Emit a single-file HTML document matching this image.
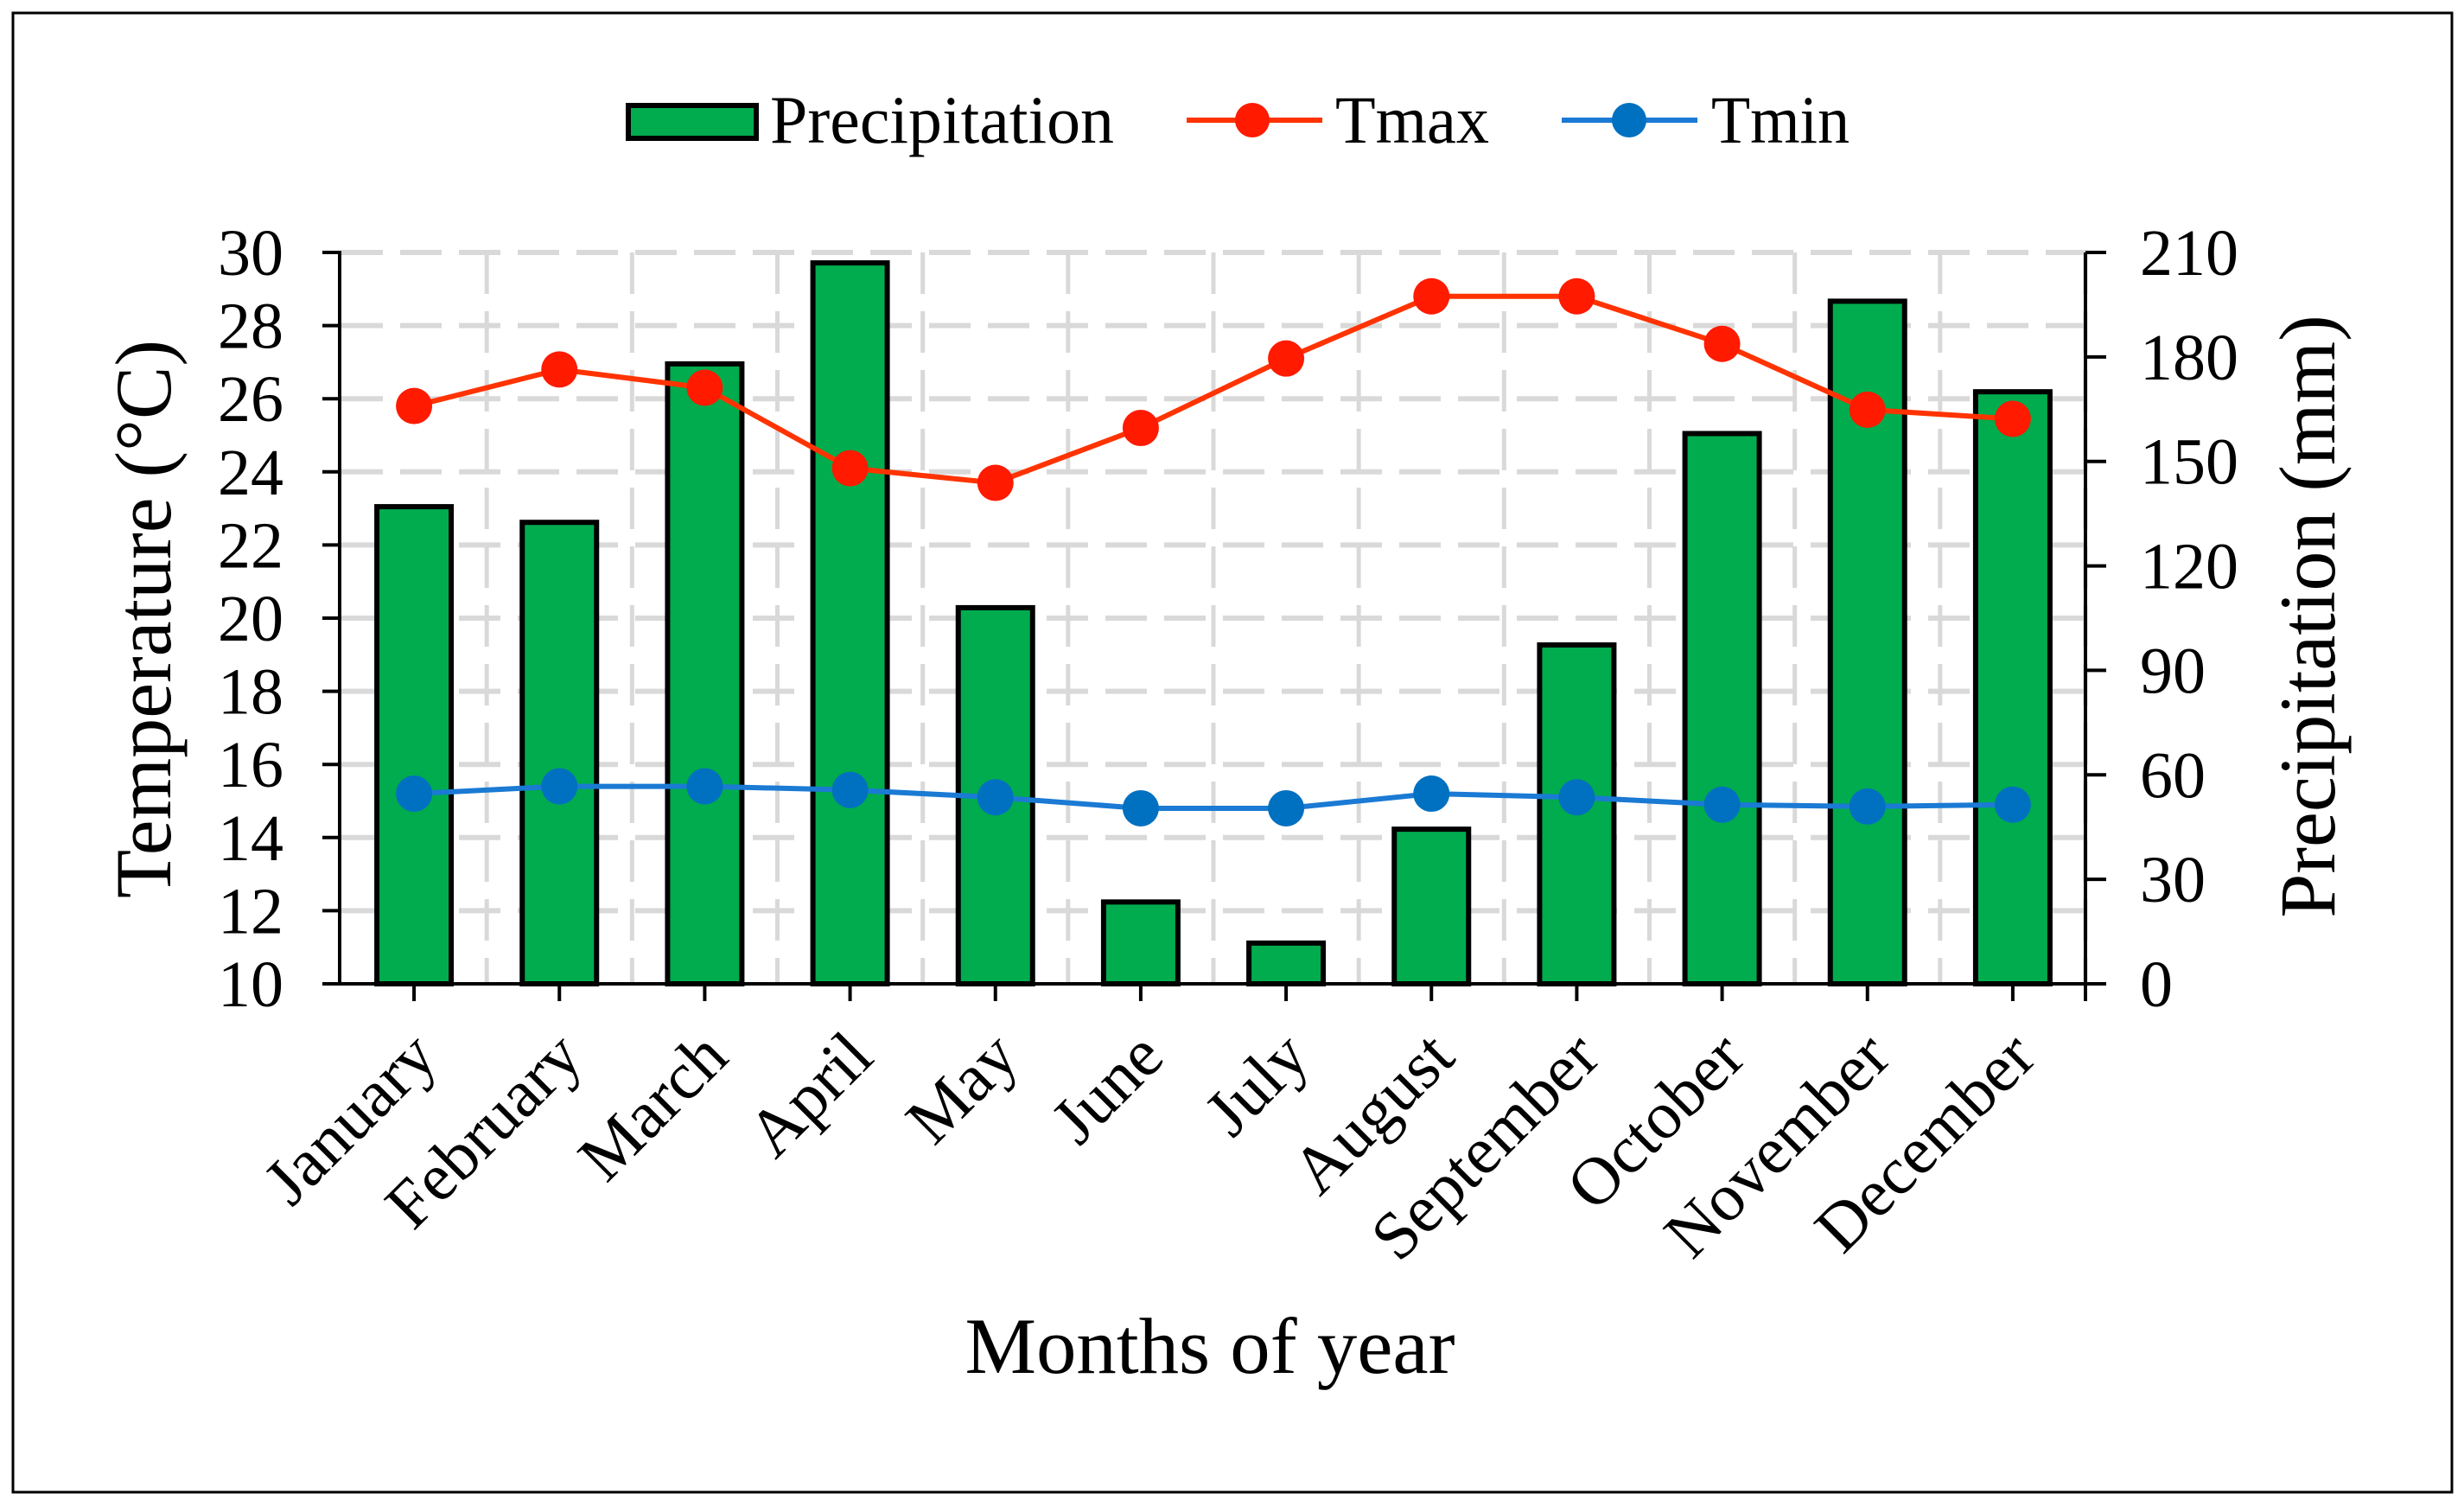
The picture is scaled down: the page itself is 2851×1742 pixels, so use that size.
<!DOCTYPE html>
<html><head><meta charset="utf-8"><style>
html,body{margin:0;padding:0;background:#fff}
svg{display:block}
text{font-family:"Liberation Serif",serif;fill:#000}
</style></head><body>
<svg id="chart" width="2851" height="1742" viewBox="0 0 2851 1742">
<rect x="15" y="15" width="2822" height="1711" fill="#fff" stroke="#000" stroke-width="3"/>
<g id="grid"></g>
<g id="bars"></g>
<g id="lines"></g>
<g id="axes"></g>
<text x="176" y="716" font-size="92" text-anchor="middle" dominant-baseline="middle" transform="rotate(-90 176 716)">Temperature (°C)</text>
<text x="2680" y="713" font-size="92" text-anchor="middle" dominant-baseline="middle" transform="rotate(-90 2680 713)">Precipitation (mm)</text>
<text x="1400" y="1588" font-size="92" text-anchor="middle" textLength="567" lengthAdjust="spacingAndGlyphs">Months of year</text>
<g>
<g>
<rect x="727" y="122" width="148" height="38" fill="#00ac4e" stroke="#000" stroke-width="6"/>
<text x="891" y="165" font-size="78" textLength="398" lengthAdjust="spacingAndGlyphs">Precipitation</text></g>
<g>
<line x1="1373" y1="139" x2="1530" y2="139" stroke="#ff3300" stroke-width="6"/>
<circle cx="1449" cy="139" r="20" fill="#ff1a00"/>
<text x="1545" y="165" font-size="78" textLength="178" lengthAdjust="spacingAndGlyphs">Tmax</text></g>
<g>
<line x1="1807" y1="139" x2="1964" y2="139" stroke="#1a7ad4" stroke-width="6"/>
<circle cx="1885" cy="139" r="20" fill="#0070c0"/>
<text x="1980" y="165" font-size="78" textLength="160" lengthAdjust="spacingAndGlyphs">Tmin</text></g>
</g>
</svg>
<script>
const months = ["January","February","March","April","May","June","July","August","September","October","November","December"];
const precipitation = [137, 132.5, 178, 207, 108, 23.5, 11.7, 44.4, 97.3, 158, 196, 170];
const tmax = [25.8, 26.8, 26.3, 24.1, 23.7, 25.2, 27.1, 28.8, 28.8, 27.5, 25.7, 25.45];
const tmin = [15.2, 15.4, 15.4, 15.3, 15.1, 14.8, 14.8, 15.2, 15.1, 14.9, 14.85, 14.9];
const tempTicks = [10,12,14,16,18,20,22,24,26,28,30];
const precTicks = [0,30,60,90,120,150,180,210];

const NS = "http://www.w3.org/2000/svg";
const L = 395, R = 2413, T = 292, B = 1138;
const band = (R - L) / months.length;
const xC = i => L + band * (i + 0.5);
const yT = v => B - (v - 10) / 20 * (B - T);
const yP = v => B - v / 210 * (B - T);
function mk(tag, attrs, parent) { const e = document.createElementNS(NS, tag); for (const k in attrs) e.setAttribute(k, attrs[k]); parent.appendChild(e); return e; }

const grid = document.getElementById('grid');
tempTicks.forEach(t => { if (t === 10) return;
  const l = mk('line', {x1: L, x2: R, y1: yT(t), y2: yT(t), stroke: '#d9d9d9', 'stroke-width': 6, 'stroke-dasharray': '48 20'}, grid);
  
  
});
for (let i = 1; i <= months.length; i++) {
  const x = L + band * i;
  const l = mk('line', {x1: x, x2: x, y1: T, y2: B, stroke: '#d9d9d9', 'stroke-width': 5, 'stroke-dasharray': '48 20'}, grid);
  
  
}

const bars = document.getElementById('bars');
precipitation.forEach((v, i) => {
  const w = 86, y = yP(v);
  const r = mk('rect', {x: xC(i) - w / 2, y: y, width: w, height: B - y, fill: '#00ac4e', stroke: '#000', 'stroke-width': 6}, bars);
  
  
});

const lines = document.getElementById('lines');
function series(vals, lineCol, dotCol, name) {
  const p = mk('polyline', {points: vals.map((v, i) => xC(i) + ',' + yT(v)).join(' '), fill: 'none', stroke: lineCol, 'stroke-width': 6}, lines);
  
  
  vals.forEach((v, i) => {
    const c = mk('circle', {cx: xC(i), cy: yT(v), r: 21, fill: dotCol}, lines);
    
    
  });
}
series(tmax, '#ff3300', '#ff1a00', 'tmax');
series(tmin, '#1a7ad4', '#0070c0', 'tmin');

const axes = document.getElementById('axes');
let a;
a = mk('line', {x1: L - 2, x2: L - 2, y1: T, y2: B, stroke: '#000', 'stroke-width': 4}, axes);
 
a = mk('line', {x1: R, x2: R, y1: T, y2: B + 20, stroke: '#000', 'stroke-width': 4}, axes);
 
a = mk('line', {x1: L - 22, x2: R + 24, y1: B, y2: B, stroke: '#000', 'stroke-width': 4}, axes);
 
tempTicks.forEach(t => {
  const tk = mk('line', {x1: L - 22, x2: L, y1: yT(t), y2: yT(t), stroke: '#000', 'stroke-width': 4}, axes);
   
  const tx = mk('text', {x: 328, y: yT(t) + 26, 'font-size': 76, 'text-anchor': 'end'}, axes);
  tx.textContent = t;
   
});
precTicks.forEach(t => {
  const tk = mk('line', {x1: R, x2: R + 24, y1: yP(t), y2: yP(t), stroke: '#000', 'stroke-width': 4}, axes);
   
  const tx = mk('text', {x: 2476, y: yP(t) + 26, 'font-size': 76, 'text-anchor': 'start'}, axes);
  tx.textContent = t;
   
});
months.forEach((m, i) => {
  const x = xC(i);
  const tk = mk('line', {x1: x, x2: x, y1: B, y2: B + 20, stroke: '#000', 'stroke-width': 4}, axes);
   
  const ax = x + 30, ay = 1226;
  const tx = mk('text', {x: ax, y: ay, 'font-size': 78, 'text-anchor': 'end', transform: 'rotate(-45 ' + ax + ' ' + ay + ')'}, axes);
  tx.textContent = m;
   
});
</script>
</body></html>
